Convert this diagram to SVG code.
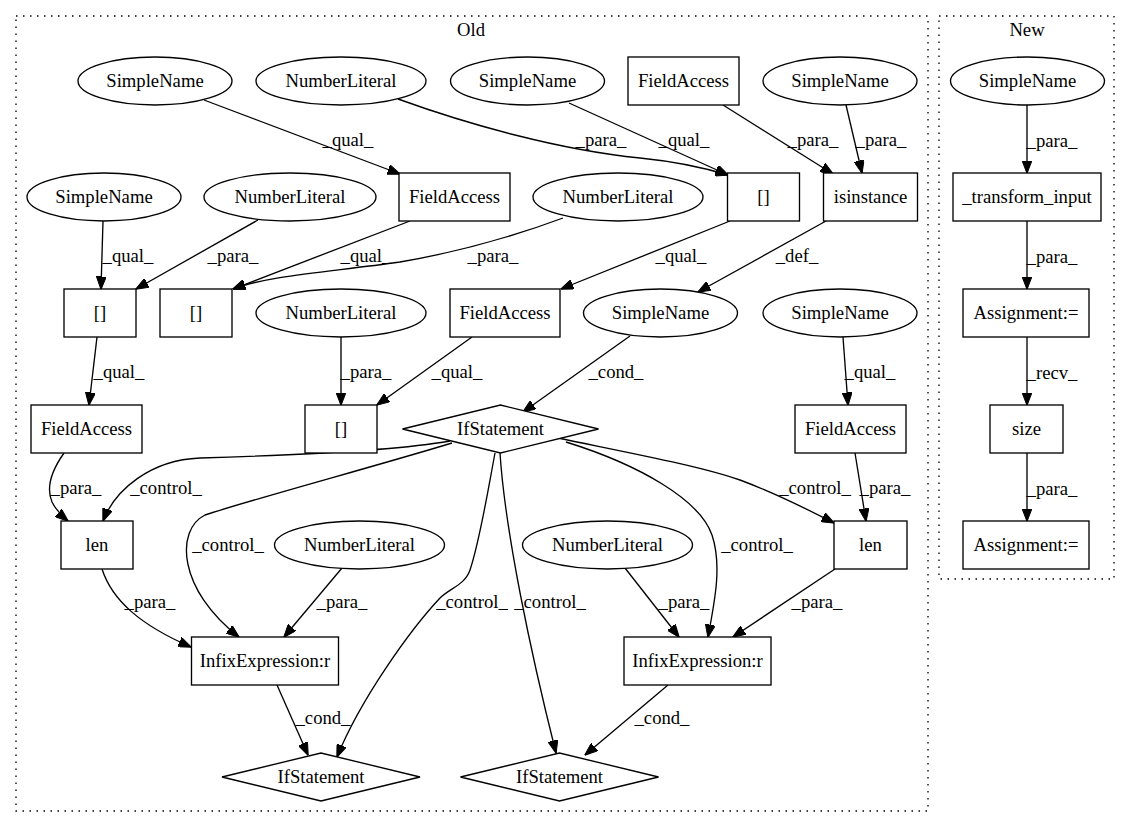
<svg xmlns="http://www.w3.org/2000/svg" width="1131" height="828" viewBox="0 0 1131 828">
<defs>
<marker id="arr" viewBox="0 0 13 10" refX="12.5" refY="5" markerWidth="13" markerHeight="10" markerUnits="userSpaceOnUse" orient="auto">
<path d="M0,0 L13,5 L0,10 z" fill="#000" stroke="#000" stroke-width="1"/>
</marker>
<style>
text{font-family:"Liberation Serif","Times New Roman",serif;font-size:18.67px;fill:#000;text-anchor:middle}
.n ellipse,.n rect,.n polygon{fill:#fff;stroke:#000;stroke-width:1.33}
.c{fill:none;stroke:#000;stroke-width:1.33;stroke-dasharray:1.5,5.5}
#edges path{fill:none;stroke:#000;stroke-width:1.33;marker-end:url(#arr)}
</style>
</defs>
<rect width="1131" height="828" fill="#fff"/>
<g id="cluster_old"><rect class="c" x="16" y="16" width="912" height="795"/><text x="471" y="36">Old</text></g>
<g id="cluster_new"><rect class="c" x="939" y="16" width="175" height="563"/><text x="1027" y="36">New</text></g>

<g id="edges">
<path d="M204,100 L400,174"/>
<path d="M398,99 C470,125 560,150 640,158 C680,162 705,168 728,175"/>
<path d="M569,103 L728,175"/>
<path d="M723,105 L833,174"/>
<path d="M846,105 L862,173"/>
<path d="M103,221 L101,289"/>
<path d="M258,220 L136,289"/>
<path d="M410,221 L233,289"/>
<path d="M563,218 C520,234 470,250 400,262 C330,272 270,275 233,289"/>
<path d="M730,221 L561,289"/>
<path d="M826,221 L698,292"/>
<path d="M97,337 L89,405"/>
<path d="M341,337 L341,405"/>
<path d="M472,337 L377,405"/>
<path d="M630,336 L523,412"/>
<path d="M843,337 L848,405"/>
<path d="M64,453 C52,470 46,488 52,502 C56,510 62,516 68,521"/>
<path d="M450,441 C400,450 300,455 200,458 C150,460 115,490 103,521"/>
<path d="M452,443 C380,465 250,500 205,515 C175,530 178,590 239,637"/>
<path d="M495,453 C488,490 480,540 470,570 C465,585 450,588 440,598 C410,630 360,700 337,757"/>
<path d="M500,453 C505,530 530,650 556,753"/>
<path d="M558,438 C630,453 700,466 740,480 C775,493 805,508 834,523"/>
<path d="M566,442 C640,465 700,500 712,535 C722,565 715,600 708,637"/>
<path d="M855,453 L866,521"/>
<path d="M102,569 C112,600 140,625 191,647"/>
<path d="M342,568 L284,637"/>
<path d="M625,568 L679,637"/>
<path d="M835,569 L733,637"/>
<path d="M277,685 L308,755"/>
<path d="M668,685 L585,755"/>
<path d="M1027,105 L1027,173"/>
<path d="M1027,221 L1027,289"/>
<path d="M1027,337 L1027,405"/>
<path d="M1027,453 L1027,521"/>
</g>
<g id="edge_labels">
<text x="348" y="146">_qual_</text>
<text x="601" y="146">_para_</text>
<text x="684" y="146">_qual_</text>
<text x="813" y="146">_para_</text>
<text x="881" y="146">_para_</text>
<text x="128" y="262">_qual_</text>
<text x="233" y="262">_para_</text>
<text x="366" y="262">_qual_</text>
<text x="493" y="262">_para_</text>
<text x="681" y="262">_qual_</text>
<text x="797" y="262">_def_</text>
<text x="119" y="378">_qual_</text>
<text x="366" y="378">_para_</text>
<text x="457" y="378">_qual_</text>
<text x="616" y="378">_cond_</text>
<text x="870" y="378">_qual_</text>
<text x="76" y="494">_para_</text>
<text x="166" y="494">_control_</text>
<text x="815" y="494">_control_</text>
<text x="885" y="494">_para_</text>
<text x="228" y="551">_control_</text>
<text x="757" y="551">_control_</text>
<text x="150" y="608">_para_</text>
<text x="342" y="608">_para_</text>
<text x="472" y="608">_control_</text>
<text x="550" y="608">_control_</text>
<text x="684" y="608">_para_</text>
<text x="817" y="608">_para_</text>
<text x="323" y="724">_cond_</text>
<text x="662" y="724">_cond_</text>
<text x="1052" y="147">_para_</text>
<text x="1052" y="263">_para_</text>
<text x="1052" y="379">_recv_</text>
<text x="1052" y="495">_para_</text>
</g>

<g id="n1" class="n"><ellipse cx="155" cy="81" rx="77" ry="24"/><text x="155" y="87">SimpleName</text></g>
<g id="n2" class="n"><ellipse cx="341" cy="81" rx="85" ry="24"/><text x="341" y="87">NumberLiteral</text></g>
<g id="n3" class="n"><ellipse cx="527.5" cy="81" rx="77" ry="24"/><text x="527.5" y="87">SimpleName</text></g>
<g id="n4" class="n"><rect x="628" y="57" width="111" height="48"/><text x="683.5" y="87">FieldAccess</text></g>
<g id="n5" class="n"><ellipse cx="840" cy="81" rx="77" ry="24"/><text x="840" y="87">SimpleName</text></g>
<g id="n6" class="n"><ellipse cx="104" cy="197" rx="77" ry="24"/><text x="104" y="203">SimpleName</text></g>
<g id="n7" class="n"><ellipse cx="290" cy="197" rx="86" ry="24"/><text x="290" y="203">NumberLiteral</text></g>
<g id="n8" class="n"><rect x="399" y="173" width="111" height="48"/><text x="454.5" y="203">FieldAccess</text></g>
<g id="n9" class="n"><ellipse cx="618" cy="197" rx="85" ry="24"/><text x="618" y="203">NumberLiteral</text></g>
<g id="n10" class="n"><rect x="727.5" y="173" width="72" height="48"/><text x="763.5" y="203">[]</text></g>
<g id="n11" class="n"><rect x="823.5" y="173" width="94" height="48"/><text x="870.5" y="203">isinstance</text></g>
<g id="n12" class="n"><rect x="64" y="289" width="72" height="48"/><text x="100" y="319">[]</text></g>
<g id="n13" class="n"><rect x="160" y="289" width="72" height="48"/><text x="196" y="319">[]</text></g>
<g id="n14" class="n"><ellipse cx="341" cy="313" rx="85" ry="24"/><text x="341" y="319">NumberLiteral</text></g>
<g id="n15" class="n"><rect x="450" y="289" width="110" height="48"/><text x="505" y="319">FieldAccess</text></g>
<g id="n16" class="n"><ellipse cx="660.5" cy="313" rx="77" ry="24"/><text x="660.5" y="319">SimpleName</text></g>
<g id="n17" class="n"><ellipse cx="840" cy="313" rx="77" ry="24"/><text x="840" y="319">SimpleName</text></g>
<g id="n18" class="n"><rect x="31" y="405" width="111" height="48"/><text x="86.5" y="435">FieldAccess</text></g>
<g id="n19" class="n"><rect x="305" y="405" width="72" height="48"/><text x="341" y="435">[]</text></g>
<g id="n20" class="n"><polygon points="402.5,429 500.5,405 598.5,429 500.5,453"/><text x="500.5" y="435">IfStatement</text></g>
<g id="n21" class="n"><rect x="795" y="405" width="111" height="48"/><text x="850.5" y="435">FieldAccess</text></g>
<g id="n22" class="n"><rect x="61" y="521" width="72" height="48"/><text x="97" y="551">len</text></g>
<g id="n23" class="n"><ellipse cx="359.5" cy="545" rx="85" ry="24"/><text x="359.5" y="551">NumberLiteral</text></g>
<g id="n24" class="n"><ellipse cx="607.5" cy="545" rx="85" ry="24"/><text x="607.5" y="551">NumberLiteral</text></g>
<g id="n25" class="n"><rect x="834" y="521" width="73" height="48"/><text x="870.5" y="551">len</text></g>
<g id="n26" class="n"><rect x="191.5" y="637" width="147" height="48"/><text x="265" y="667">InfixExpression:r</text></g>
<g id="n27" class="n"><rect x="624" y="637" width="147" height="48"/><text x="697.5" y="667">InfixExpression:r</text></g>
<g id="n28" class="n"><polygon points="222,777 321,753 420,777 321,801"/><text x="321" y="783">IfStatement</text></g>
<g id="n29" class="n"><polygon points="460.5,777 559.5,753 658.5,777 559.5,801"/><text x="559.5" y="783">IfStatement</text></g>

<g id="m1" class="n"><ellipse cx="1027.5" cy="81" rx="77" ry="24"/><text x="1027.5" y="87">SimpleName</text></g>
<g id="m2" class="n"><rect x="953" y="173" width="148" height="48"/><text x="1027" y="203">_transform_input</text></g>
<g id="m3" class="n"><rect x="963" y="289" width="126" height="48"/><text x="1026" y="319">Assignment:=</text></g>
<g id="m4" class="n"><rect x="990" y="405" width="73" height="48"/><text x="1026.5" y="435">size</text></g>
<g id="m5" class="n"><rect x="963" y="521" width="126" height="48"/><text x="1026" y="551">Assignment:=</text></g>
</svg>
